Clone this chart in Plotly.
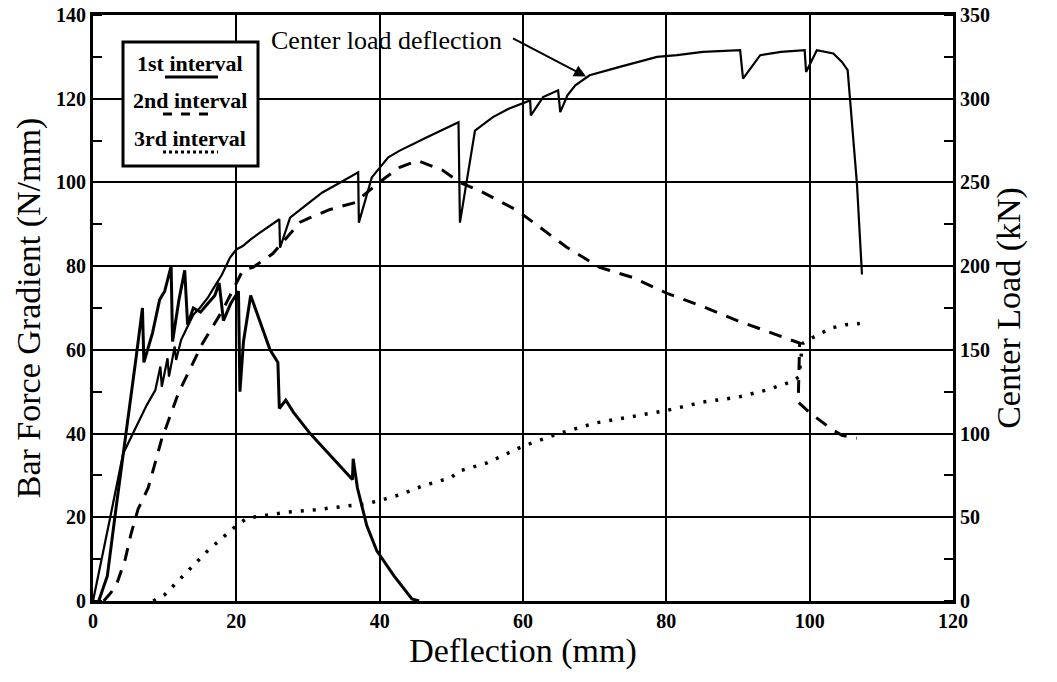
import plotly.graph_objects as go

# ---------------- data ----------------
# Center load - deflection curve (right axis, kN)
center_x = [0, 1.0, 2.5, 4.2, 6.0, 7.5, 8.7, 9.4, 9.6, 10.4, 10.6, 11.4, 11.6, 12.3, 13.2, 14.0,
            14.9, 16.0, 16.7, 18.0, 19.1, 20.0, 20.9, 22.0, 23.3, 26.0, 26.1, 27.5, 29.9, 32.0,
            34.5, 37.0, 37.1, 38.9, 41.2, 42.8, 46.6, 51.0, 51.2, 53.3, 55.8, 58.0, 61.0, 61.1,
            62.8, 64.9, 65.2, 66.2, 67.3, 69.3, 73.5, 78.7, 81.5, 85.1, 90.3, 90.7, 93.1, 96.0,
            99.3, 99.5, 101.0, 103.3, 104.5, 105.3, 106.6, 107.3]
center_kn = [0, 20, 52, 88, 104, 117, 126, 140, 128, 145, 134, 152, 144, 156, 164, 171,
             175, 181, 186, 195, 205, 210, 212, 216, 220, 228, 211, 229, 237, 244,
             250, 256, 226, 253, 265, 269, 277, 286, 226, 281, 289, 294, 299, 290,
             301, 305, 292, 302, 308, 314, 319, 325, 326, 328, 329, 312, 326, 328,
             329, 316, 329, 327, 322, 317, 249, 195]

# 1st interval bar force gradient (left axis, N/mm)
first_x = [0.8, 2.0, 3.2, 4.0, 5.2, 6.0, 6.9, 7.1, 8.3, 9.3, 10.0, 10.9, 11.1, 12.0, 12.8, 13.2,
           14.0, 15.0, 16.0, 17.0, 17.6, 18.2, 19.2, 20.3, 20.5, 21.0, 22.0, 23.0, 24.7, 25.8,
           26.0, 26.9, 28.0, 30.3, 33.0, 36.2, 36.3, 36.9, 38.2, 39.6, 42.0, 44.5, 45.5]
first_y = [0, 6, 22, 32, 48, 58, 70, 57, 64, 72, 74, 80, 62, 72, 79, 66,
           70, 69, 71, 73, 76, 67, 71, 74, 50, 62, 73, 68, 60, 57,
           46, 48, 45, 40, 35, 29, 34, 27, 18, 12, 6, 0.5, 0]

# 2nd interval bar force gradient (left axis, N/mm)
second_x = [1.5, 2.5, 3.3, 4.5, 5.3, 6.3, 7.7, 9.8, 10.2, 11.9, 15.3, 18.1, 20.9, 22.3, 25.1,
            28.9, 30.3, 33.0, 36.6, 38.5, 40.7, 42.8, 45.3, 48.8, 51.2, 54.0, 59.2, 61.4,
            66.1, 70.7, 75.3, 80.1, 84.7, 89.9, 94.9, 98.6, 98.4, 100.0, 103.1, 104.5, 106.6]
second_y = [0, 2, 4, 10, 16, 22, 27, 40, 41.5, 49.6, 61.6, 69.5, 79, 79.7, 83,
            90.5, 91.6, 93.5, 95.2, 98, 101, 103.6, 105.2, 102.9, 100, 98, 93.3, 90.5,
            84.5, 79.7, 77.3, 73.5, 70.6, 67, 64, 61.6, 47.5, 45, 41, 39.6, 38.9]

# 3rd interval bar force gradient (left axis, N/mm)
third_x = [8.4, 10.0, 12.0, 14.0, 16.0, 18.0, 20.0, 21.5, 24.0, 27.0, 31.0, 35.0, 38.0, 40.0,
           43.0, 46.0, 50.0, 51.0, 55.0, 60.0, 65.0, 70.0, 75.0, 80.0, 85.0, 90.0, 94.0,
           97.3, 98.5, 99.0, 100.5, 103.0, 105.0, 107.0]
third_y = [0, 1.5, 5, 8.5, 12, 15, 18, 19.8, 20.5, 21.2, 21.8, 22.6, 23.2, 24,
           25.5, 27.5, 29.5, 31, 33, 37, 40, 42.5, 44, 45.5, 47.5, 48.7, 50.4,
           52.3, 53.5, 61.5, 63, 65.2, 66, 66.3]

legend_labels = ["1st interval", "2nd interval", "3rd interval"]
x_ticks = [0, 20, 40, 60, 80, 100, 120]
y_ticks = [0, 20, 40, 60, 80, 100, 120, 140]
y2_ticks = [0, 50, 100, 150, 200, 250, 300, 350]

# ---------------- figure ----------------
FONT = "Liberation Serif"
W, H = 1057, 682
L, R, T, B = 93, 104, 15, 81
PW, PH = W - L - R, H - T - B


def px(x):
    # page pixel -> paper fraction
    return (x - L) / PW


def py(y):
    return (T + PH - y) / PH


fig = go.Figure()

fig.add_trace(go.Scatter(x=first_x, y=first_y, mode="lines", name=legend_labels[0],
                         line=dict(color="black", width=3), showlegend=False))
fig.add_trace(go.Scatter(x=second_x, y=second_y, mode="lines", name=legend_labels[1],
                         line=dict(color="black", width=3, dash="13px,10px"), showlegend=False))
fig.add_trace(go.Scatter(x=third_x, y=third_y, mode="lines", name=legend_labels[2],
                         line=dict(color="black", width=3.5, dash="3px,9px"), showlegend=False))
fig.add_trace(go.Scatter(x=center_x, y=center_kn, mode="lines", name="Center load deflection",
                         yaxis="y2", line=dict(color="black", width=2.2), showlegend=False))

fig.update_layout(
    width=W, height=H,
    margin=dict(l=L, r=R, t=T, b=B),
    paper_bgcolor="white", plot_bgcolor="white",
    font=dict(family=FONT, color="black"),
    xaxis=dict(range=[0, 120], tickvals=x_ticks, showgrid=True, gridcolor="black", gridwidth=2,
               showline=True, linecolor="black", linewidth=3, mirror=True, zeroline=False,
               ticks="", automargin=False, ticklabeloverflow="allow",
               tickfont=dict(family=FONT, size=20, color="black", weight="bold"),
               title=dict(text="Deflection (mm)", font=dict(family=FONT, size=34, color="black"),
                          standoff=4)),
    yaxis=dict(range=[0, 140], tickvals=y_ticks, showgrid=True, gridcolor="black", gridwidth=2,
               showline=True, linecolor="black", linewidth=3, zeroline=False, ticks="",
               automargin=False, ticklabeloverflow="allow",
               tickfont=dict(family=FONT, size=20, color="black", weight="bold"),
               minor=dict(dtick=10, ticks="inside", ticklen=9, tickwidth=2, tickcolor="black",
                          showgrid=False),
               title=dict(text="Bar Force Gradient (N/mm)",
                          font=dict(family=FONT, size=34, color="black"), standoff=6)),
    yaxis2=dict(range=[0, 350], tickvals=y2_ticks, overlaying="y", side="right", showgrid=False,
                showline=True, linecolor="black", linewidth=3, zeroline=False, ticks="",
                automargin=False, ticklabeloverflow="allow",
                tickfont=dict(family=FONT, size=20, color="black", weight="bold"),
                minor=dict(dtick=25, ticks="inside", ticklen=9, tickwidth=2, tickcolor="black",
                           showgrid=False),
                title=dict(text="Center Load (kN)", font=dict(family=FONT, size=34, color="black"),
                           standoff=6)),
)

# legend box drawn manually (text above line sample, as in the reference)
shapes = [dict(type="rect", xref="paper", yref="paper", x0=px(123), x1=px(258), y0=py(166), y1=py(42),
               line=dict(color="black", width=3), fillcolor="white", layer="above")]
samples = [(77, "solid", 165, 218), (114, "dash", 163, 212), (152, "dot", 163, 218)]
for yy, dash, a, b in samples:
    shapes.append(dict(type="line", xref="paper", yref="paper", x0=px(a), x1=px(b), y0=py(yy), y1=py(yy),
                       line=dict(color="black", width=3, dash=dash), layer="above"))
fig.update_layout(shapes=shapes)

annotations = []
for lab, yy in zip(legend_labels, [63, 100, 138]):
    annotations.append(dict(text=lab, xref="paper", yref="paper", x=px(190), y=py(yy),
                            xanchor="center", yanchor="middle", showarrow=False,
                            font=dict(family=FONT, size=22, color="black", weight="bold")))
annotations.append(dict(text="Center load deflection", xref="x", yref="y", x=41.0, y=134.0,
                        xanchor="center", yanchor="middle", showarrow=False,
                        font=dict(family=FONT, size=26, color="black")))
annotations.append(dict(text="", xref="x", yref="y", x=68.8, y=125.3, ax=58.4, ay=134.6,
                        axref="x", ayref="y", showarrow=True, arrowhead=2, arrowsize=1.2,
                        arrowwidth=2, arrowcolor="black"))
fig.update_layout(annotations=annotations)

fig.write_html("out.html", config={"displayModeBar": False},
               post_script="document.body.style.margin='0';document.body.style.overflow='hidden';")
